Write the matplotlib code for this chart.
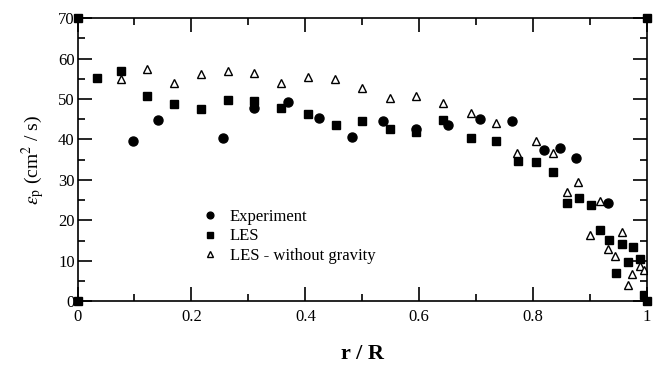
import matplotlib
matplotlib.use('Agg')
from matplotlib import pyplot as plt
from matplotlib.ticker import MultipleLocator

# Experiment (circles)
exp_x = [0.098, 0.141, 0.255, 0.310, 0.369, 0.424, 0.482, 0.537, 0.594, 0.651,
         0.706, 0.763, 0.819, 0.847, 0.875, 0.932]
exp_y = [39.7, 44.8, 40.4, 47.7, 49.2, 45.2, 40.5, 44.6, 42.5, 43.5,
         45.0, 44.6, 37.5, 37.8, 35.5, 24.2]

# LES (squares)
les_x = [0.034, 0.076, 0.122, 0.169, 0.216, 0.264, 0.310, 0.357, 0.405, 0.454,
         0.500, 0.548, 0.595, 0.641, 0.690, 0.735, 0.773, 0.805, 0.834, 0.859,
         0.881, 0.901, 0.917, 0.933, 0.945, 0.956, 0.966, 0.976, 0.988, 0.994]
les_y = [55.1, 57.0, 50.7, 48.7, 47.5, 49.8, 49.6, 47.7, 46.3, 43.7,
         44.6, 42.6, 41.8, 44.8, 40.4, 39.6, 34.7, 34.4, 32.0, 24.4,
         25.6, 23.9, 17.7, 15.1, 6.9, 14.1, 9.6, 13.3, 10.4, 1.6]

# LES - without gravity (open triangles)
nog_x = [0.076, 0.122, 0.169, 0.217, 0.264, 0.310, 0.357, 0.405, 0.452, 0.500,
         0.548, 0.595, 0.642, 0.690, 0.735, 0.772, 0.805, 0.834, 0.859, 0.879,
         0.900, 0.917, 0.932, 0.944, 0.956, 0.966, 0.974, 0.988, 0.994]
nog_y = [54.9, 57.5, 54.1, 56.2, 57.0, 56.4, 54.0, 55.5, 54.9, 52.8,
         50.2, 50.7, 49.1, 46.6, 44.0, 36.6, 39.6, 36.6, 27.1, 29.4,
         16.3, 24.8, 12.9, 11.1, 17.2, 4.1, 6.6, 8.7, 7.6]

# corner markers of the frame
corner_x = [0, 1, 0, 1]
corner_y = [0, 0, 70, 70]

plt.rcParams['font.family'] = ['Liberation Serif', 'DejaVu Serif']
plt.rcParams['mathtext.fontset'] = 'stix'

fig = plt.figure(figsize=(6.57, 3.65), dpi=100)
ax = fig.add_axes([0.118, 0.175, 0.867, 0.775])

ax.plot(exp_x, exp_y, 'o', color='black', markersize=6.5, label='Experiment')
ax.plot(les_x, les_y, 's', color='black', markersize=5.5, label='LES')
ax.plot(nog_x, nog_y, '^', markerfacecolor='white', markeredgecolor='black',
        markeredgewidth=1.0, markersize=6, label='LES - without gravity')
ax.plot(corner_x, corner_y, 's', color='black', markersize=6, clip_on=False)

ax.set_xlim(0, 1)
ax.set_ylim(0, 70)
ax.xaxis.set_major_locator(MultipleLocator(0.2))
ax.xaxis.set_minor_locator(MultipleLocator(0.1))
ax.yaxis.set_major_locator(MultipleLocator(10))
ax.yaxis.set_minor_locator(MultipleLocator(5))
ax.xaxis.set_major_formatter(plt.FuncFormatter(lambda v, p: '%g' % round(v, 1)))
ax.tick_params(which='both', direction='in', top=True, right=True,
               labelsize=12, width=1.2)
ax.tick_params(which='major', length=10)
ax.tick_params(which='minor', length=5)
ax.tick_params(axis='x', which='major', pad=6)
ax.tick_params(axis='y', which='major', pad=2)
for s in ax.spines.values():
    s.set_linewidth(1.2)

ax.set_xlabel('r / R', fontsize=16, fontweight='bold', labelpad=13)
ax.set_ylabel(r'$\varepsilon_{\mathrm{p}}$ (cm$^{2}$ / s)', fontsize=14, labelpad=8)

ax.legend(loc='upper left', bbox_to_anchor=(0.2, 0.355), frameon=False,
          fontsize=12, handletextpad=0.6, labelspacing=0.2, borderpad=0,
          handlelength=1.2, markerscale=0.75)

plt.savefig('out.png', dpi=100)
